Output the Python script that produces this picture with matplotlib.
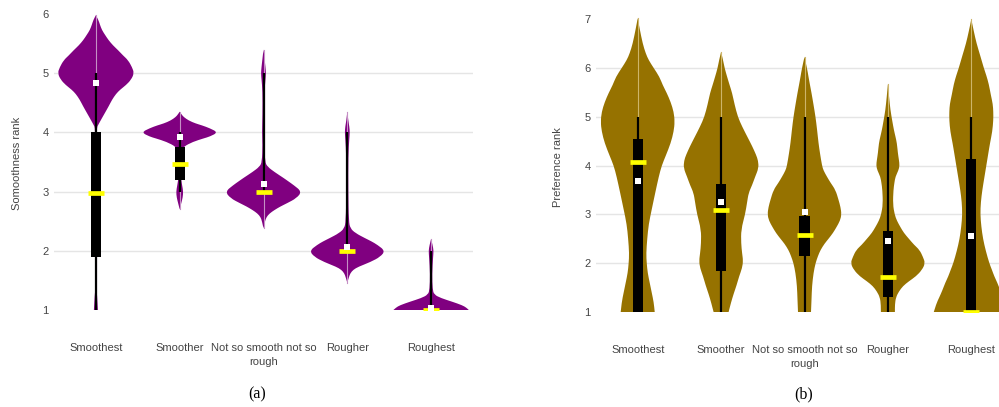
import numpy as np
import matplotlib
matplotlib.use("Agg")
import matplotlib.pyplot as plt
from matplotlib.patches import Rectangle, PathPatch
from matplotlib.path import Path

categories = ["Smoothest", "Smoother", "Not so smooth not so\nrough",
              "Rougher", "Roughest"]

# Violin outlines: rank levels and half widths
# (half widths in reference pixels, the widest violin part is ~37.5)

# (a) smoothness rank
a_smoothest_y = [1.0, 1.15, 1.3, 1.38, 4.05, 4.15, 4.3, 4.45, 4.55, 4.65, 4.72,
                 4.8, 4.89, 5.0, 5.1, 5.22, 5.3, 5.39, 5.47, 5.56, 5.65, 5.73,
                 5.82, 5.9, 5.98]
a_smoothest_w = [2, 1.5, 1, 0, 0, 3, 8, 13, 16, 20, 24, 30, 35, 38, 36, 32, 27,
                 22, 17, 12.5, 9, 6, 4, 2.5, 0]
a_smoother_y = [2.7, 2.8, 2.9, 3.0, 3.1, 3.2, 3.3, 3.5, 3.7, 3.76, 3.84, 3.9,
                3.93, 4.0, 4.07, 4.12, 4.15, 4.2, 4.26, 4.3, 4.35]
a_smoother_w = [0, 1.5, 3, 3.5, 2.5, 1.5, 1, 1, 2, 4, 13, 24, 30, 38, 30, 22,
                16, 9, 4, 2, 0]
a_notso_y = [2.38, 2.5, 2.57, 2.63, 2.69, 2.75, 2.8, 2.89, 3.0, 3.11, 3.17, 3.23,
             3.33, 3.42, 3.5, 3.8, 4.0, 4.3, 4.7, 4.9, 5.0, 5.1, 5.25, 5.4]
a_notso_w = [0, 1.5, 3, 6, 11, 17, 23, 33, 38, 30, 25, 20, 11, 4, 1.5, 1, 1.5,
             1, 1, 2, 2.5, 2, 1, 0]
a_rougher_y = [1.46, 1.55, 1.62, 1.68, 1.73, 1.81, 1.9, 2.0, 2.1, 2.16, 2.21, 2.3,
               2.38, 2.5, 3.0, 3.6, 3.9, 4.0, 4.1, 4.2, 4.35]
a_rougher_w = [0, 1.5, 3, 6, 11, 23, 33, 37.5, 30, 24, 18, 8, 3, 1.5, 1, 1, 2,
               2.5, 2, 1, 0]
a_roughest_y = [1.0, 1.04, 1.08, 1.14, 1.2, 1.26, 1.35, 1.6, 1.9, 2.0, 2.1, 2.2]
a_roughest_w = [37.5, 35, 31, 21, 10, 3, 1.5, 1, 2, 2.5, 1.5, 0]

a_whisker_lo = [1.0, 3.0, 3.0, 2.0, 1.0]
a_q1 = [1.9, 3.2, 3.0, 2.0, 1.0]
a_q3 = [4.0, 3.75, 3.0, 2.0, 1.0]
a_whisker_hi = [5.0, 4.0, 5.0, 4.0, 2.0]
a_yellow = [2.97, 3.47, 3.0, 2.0, 1.0]
a_white = [4.83, 3.92, 3.12, 2.07, 1.03]

# (b) preference rank
b_smoothest_y = [1.0, 1.2, 1.4, 1.6, 1.8, 2.0, 2.2, 2.5, 2.8, 3.1, 3.44, 3.77,
                 4.0, 4.2, 4.46, 4.7, 4.9, 5.1, 5.3, 5.49, 5.65, 5.82, 6.0, 6.16,
                 6.3, 6.5, 6.8, 7.02]
b_smoothest_w = [17, 16, 14, 12, 10, 9, 8.5, 9.5, 11, 14, 17.5, 21, 24, 28, 33,
                 36, 37, 36, 33, 29, 25, 21.7, 16, 11, 8, 5, 2, 0]
b_smoother_y = [1.0, 1.2, 1.37, 1.55, 1.73, 1.9, 2.05, 2.2, 2.41, 2.69, 3.0, 3.25,
                3.44, 3.6, 3.77, 3.95, 4.1, 4.22, 4.4, 4.56, 4.8, 5.0, 5.25, 5.49,
                5.65, 5.82, 6.0, 6.16, 6.33]
b_smoother_w = [7.5, 10, 12.5, 15.5, 18, 21, 22, 21, 20, 20, 24, 26, 27.5, 31,
                34, 37.5, 37, 35, 31, 27, 21, 16.7, 13.5, 11, 8.5, 6, 3.5, 2, 0]
b_notso_y = [1.0, 1.25, 1.53, 1.8, 2.0, 2.15, 2.27, 2.4, 2.5, 2.62, 2.74, 2.87,
             3.0, 3.15, 3.3, 3.5, 3.65, 3.77, 3.9, 4.0, 4.25, 4.46, 4.75, 5.0,
             5.25, 5.49, 5.65, 5.82, 6.0, 6.23]
b_notso_w = [6.5, 7, 7.5, 9, 11, 13.5, 16, 20, 24, 28.5, 32, 35.5, 37, 36, 34,
             31, 26, 22.5, 19, 17.5, 15.5, 14, 12.5, 11, 9, 7, 5.5, 4, 2.5, 0]
b_rougher_y = [1.0, 1.15, 1.3, 1.42, 1.53, 1.63, 1.73, 1.86, 2.0, 2.13, 2.27,
               2.38, 2.5, 2.62, 2.74, 2.87, 3.0, 3.21, 3.5, 3.65, 3.77, 3.9, 4.0,
               4.12, 4.25, 4.46, 4.6, 4.73, 4.9, 5.14, 5.4, 5.67]
b_rougher_w = [7, 7, 8, 11, 15, 21, 28, 34, 37.3, 35, 31.7, 26, 21, 16, 12.5, 9,
               6.7, 5, 5.5, 6.5, 7.5, 10.5, 11.7, 11, 10, 9, 7.5, 6, 4.5, 2.5,
               1.2, 0]
b_roughest_y = [1.0, 1.17, 1.3, 1.44, 1.6, 1.73, 1.87, 2.0, 2.25, 2.5, 2.75, 3.0,
                3.25, 3.5, 3.75, 4.0, 4.25, 4.46, 4.7, 4.93, 5.1, 5.26, 5.45,
                5.67, 5.85, 6.0, 6.25, 6.5, 6.75, 7.0]
b_roughest_w = [37.5, 35, 32, 29, 26, 23, 20.5, 18, 14.5, 11.7, 10, 9, 9.5, 11,
                13, 15, 17, 18.7, 21, 22, 22, 21.5, 19.5, 17.5, 15, 12.5, 9, 5.3,
                2.5, 0]

b_whisker_lo = [1.0, 1.0, 1.0, 1.0, 1.0]
b_q1 = [1.0, 1.85, 2.15, 1.3, 1.0]
b_q3 = [4.55, 3.62, 2.97, 2.67, 4.13]
b_whisker_hi = [5.0, 5.0, 5.0, 5.0, 5.0]
b_yellow = [4.07, 3.08, 2.58, 1.72, 1.0]
b_white = [3.68, 3.25, 3.05, 2.45, 2.55]

W, H = 999, 407
FONT = "Liberation Sans"
TXT = "#444444"


def px_axes(fig, left, right, top, bottom):
    return fig.add_axes([left / W, 1 - bottom / H, (right - left) / W,
                         (bottom - top) / H])


def smooth_side(pts):
    # quadratic bezier through the midpoints, both ends kept in place
    verts, codes = [], []
    n = len(pts)
    verts.append(0.5 * (pts[0] + pts[1]))
    codes.append(Path.LINETO)
    for k in range(1, n - 1):
        end = pts[k + 1] if k == n - 2 else 0.5 * (pts[k] + pts[k + 1])
        verts += [pts[k], end]
        codes += [Path.CURVE3, Path.CURVE3]
    return verts, codes


def violin_patch(x, lv, hw, color):
    right = np.column_stack([x + hw, lv])
    left = np.column_stack([x - hw, lv])[::-1]
    verts, codes = [right[0]], [Path.MOVETO]
    v, c = smooth_side(right)
    verts += v
    codes += c
    verts.append(left[0])
    codes.append(Path.LINETO)
    v, c = smooth_side(left)
    verts += v
    codes += c
    verts.append(right[0])
    codes.append(Path.CLOSEPOLY)
    return PathPatch(Path(verts, codes), facecolor=color, lw=0, zorder=2)


def draw_panel(ax, profiles, wlo, q1, q3, whi, med, mean, color, faint,
               ylim, ticks):
    half = 0.45
    for i, (lv, hw) in enumerate(profiles):
        lv = np.array(lv, dtype=float)
        hw = np.array(hw, dtype=float) * half / 37.5
        ax.add_patch(violin_patch(i, lv, hw, color))
        ax.plot([i, i], [lv.min(), lv.max()], color=faint, lw=0.8, zorder=3)
        ax.plot([i, i], [wlo[i], whi[i]], color="black", lw=1.6, zorder=4,
                solid_capstyle="butt")
        if q3[i] > q1[i]:
            ax.add_patch(Rectangle((i - 0.06, q1[i]), 0.12, q3[i] - q1[i],
                                   color="black", lw=0, zorder=5))
        ax.plot([i], [med[i]], marker="_", ms=11, mew=3.4, color="#ffff00",
                zorder=6)
        ax.plot([i], [mean[i]], marker="s", ms=5, mew=0, color="white",
                zorder=7)
    for t in ticks[1:-1]:
        ax.axhline(t, color="#e5e5e5", lw=1, zorder=1)
    ax.set_xlim(-0.5, 4.5)
    ax.set_ylim(*ylim)
    ax.set_yticks(ticks)
    ax.set_xticks(range(len(categories)))
    ax.set_xticklabels(categories, linespacing=1.4)
    ax.tick_params(axis="both", length=0, labelsize=8, labelcolor=TXT)
    ax.tick_params(axis="x", pad=24)
    ax.tick_params(axis="y", pad=4)
    for s in ax.spines.values():
        s.set_visible(False)


plt.rcParams["font.family"] = [FONT, "DejaVu Sans"]
fig = plt.figure(figsize=(W / 100, H / 100), dpi=100)

# (a): 1 at y=310 px, 59.2 px per rank
ax1 = px_axes(fig, 54, 473, 310 - 5.1 * 59.2, 310)
draw_panel(ax1,
           [(a_smoothest_y, a_smoothest_w), (a_smoother_y, a_smoother_w),
            (a_notso_y, a_notso_w), (a_rougher_y, a_rougher_w),
            (a_roughest_y, a_roughest_w)],
           a_whisker_lo, a_q1, a_q3, a_whisker_hi, a_yellow, a_white,
           "#800080", "#c58fc5", (1, 6.1), [1, 2, 3, 4, 5, 6])

# (b): 1 at y=312 px, 48.8 px per rank, plot runs past the right edge
ax2 = px_axes(fig, 596, 1013, 312 - 6.1 * 48.8, 312)
draw_panel(ax2,
           [(b_smoothest_y, b_smoothest_w), (b_smoother_y, b_smoother_w),
            (b_notso_y, b_notso_w), (b_rougher_y, b_rougher_w),
            (b_roughest_y, b_roughest_w)],
           b_whisker_lo, b_q1, b_q3, b_whisker_hi, b_yellow, b_white,
           "#967200", "#cdb56a", (1, 7.1), [1, 2, 3, 4, 5, 6, 7])

fig.text(17 / W, 1 - 163 / H, "Somoothness rank", rotation=90, ha="center",
         va="center", fontsize=8, color=TXT)
fig.text(558 / W, 1 - 167 / H, "Preference rank", rotation=90, ha="center",
         va="center", fontsize=8, color=TXT)

fig.text(257 / W, 1 - 394 / H, "(a)", ha="center", va="center", fontsize=11.5,
         family="Liberation Serif", color="black")
fig.text(804 / W, 1 - 394 / H, "(b)", ha="center", va="center", fontsize=11.5,
         family="Liberation Serif", color="black")

fig.savefig("out.png", dpi=100)
